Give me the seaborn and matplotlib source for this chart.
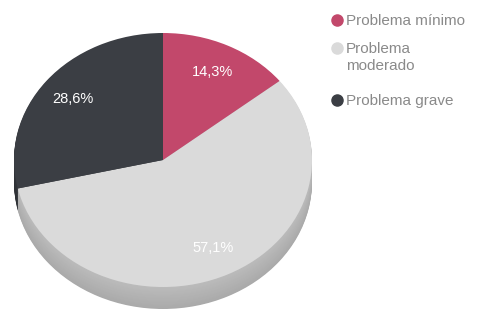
import numpy as np
import matplotlib
matplotlib.use("Agg")
import matplotlib.pyplot as plt
from matplotlib.lines import Line2D
import matplotlib.colors as mcolors
import seaborn as sns

# datos del grafico
etiquetas = ["Problema mínimo", "Problema\nmoderado", "Problema grave"]
porcentajes = [14.3, 57.1, 28.6]
colores = ["#c2486b", "#dadada", "#3b3e44"]

sns.set_theme(style="white")
plt.rcParams['font.family'] = ['Liberation Sans', 'DejaVu Sans']

W, H = 481, 322
fig = plt.figure(figsize=(W / 100, H / 100), dpi=100)
ax = fig.add_axes([0, 0, 1, 1])

# geometria del "pastel" en pixeles
cx, cy_px = 163, 160
rx, ry = 149, 127
prof = 22
s = ry / rx  # escala vertical

def ypix(p):
    return (H - p) / s

# lateral (capas desplazadas hacia abajo, mas oscuras)
n = 24
for k in range(n, 0, -1):
    off = prof * k / n
    f = 0.78 + 0.08 * (1 - k / n)
    cols_lado = [tuple(np.array(mcolors.to_rgb(c)) * f) for c in colores]
    ax.pie(porcentajes, colors=cols_lado, startangle=90, counterclock=False,
           center=(cx, ypix(cy_px + off)), radius=rx,
           wedgeprops=dict(linewidth=0, antialiased=True), frame=True)

# cara superior
wedges, textos, autotextos = ax.pie(
    porcentajes, colors=colores, startangle=90, counterclock=False,
    center=(cx, ypix(cy_px)), radius=rx,
    autopct=lambda p: f"{p:.1f}%".replace(".", ","), pctdistance=0.77,
    wedgeprops=dict(linewidth=0), frame=True,
    textprops=dict(color="white", fontsize=10.5))

ax.set_aspect("auto")
ax.set_xlim(0, W)
ax.set_ylim(0, H / s)
ax.axis("off")

# leyenda
filas = [20, 48, 100]
for lab, col, yy in zip(etiquetas, colores, filas):
    fig.add_artist(Line2D([337 / W], [1 - yy / H], marker="o", markersize=8,
                          markerfacecolor=col, markeredgecolor=col,
                          linestyle="none", transform=fig.transFigure))
    primera, *resto = lab.split("\n")
    fig.text(346 / W, 1 - (yy + 5) / H, primera, color="#8a8a8a",
             fontsize=11, va="baseline", ha="left")
    for i, linea in enumerate(resto, 1):
        fig.text(346 / W, 1 - (yy + 5 + 17 * i) / H, linea, color="#8a8a8a",
                 fontsize=11, va="baseline", ha="left")

fig.savefig("out.png", dpi=100)
